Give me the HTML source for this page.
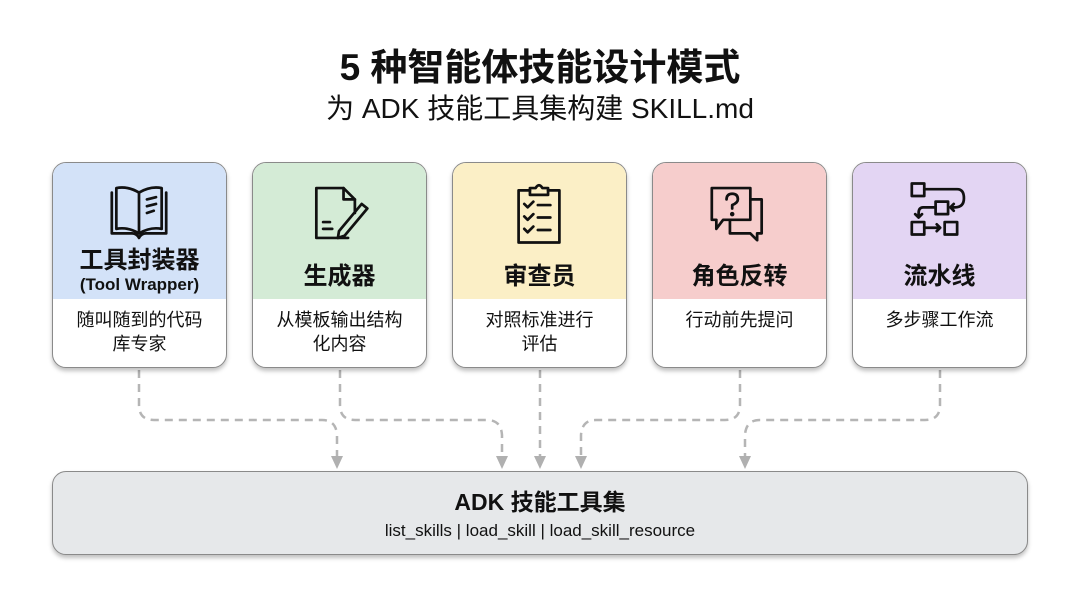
<!DOCTYPE html>
<html><head><meta charset="utf-8"><style>
html,body{margin:0;padding:0;background:#fff;}
body{width:1080px;height:602px;position:relative;overflow:hidden;font-family:"Liberation Sans","Noto Sans CJK SC",sans-serif;color:#111;}
.t1{position:absolute;left:0;width:1080px;top:44px;text-align:center;font-size:37px;font-weight:bold;line-height:48px;}
.t2{position:absolute;left:0;width:1080px;top:90px;text-align:center;font-size:28px;line-height:38px;}
.card{position:absolute;top:162px;width:173px;height:204px;border:1.5px solid #8a8a8a;border-radius:14px;overflow:hidden;background:#fff;box-shadow:0 3px 4px rgba(0,0,0,.25);}
.top{position:absolute;left:0;top:0;width:100%;height:136px;}
.name{position:absolute;left:0;width:100%;text-align:center;font-weight:bold;font-size:24px;line-height:28px;top:86px;}
.desc{position:absolute;left:0;width:100%;top:145px;text-align:center;font-size:18px;line-height:24px;}
.icon{position:absolute;left:52px;top:16px;width:68px;height:68px;}
.bot{position:absolute;left:52px;top:471px;width:974px;height:82px;border:1.5px solid #8a8a8a;border-radius:14px;background:#e6e8ea;box-shadow:0 3px 4px rgba(0,0,0,.25);text-align:center;}
</style></head><body>
<div class="t1">5 种智能体技能设计模式</div>
<div class="t2">为 ADK 技能工具集构建 SKILL.md</div>

<svg width="1080" height="602" style="position:absolute;left:0;top:0" fill="none">
<g stroke="#b5b5b5" stroke-width="2.5" stroke-dasharray="8,6">
<path d="M139 370 V405 Q139 420 154 420 H322 Q336 420 337 435 V458"/>
<path d="M340 370 V405 Q340 420 355 420 H487 Q501 420 502 435 V458"/>
<path d="M540 370 V458"/>
<path d="M740 370 V405 Q740 420 725 420 H596 Q582 420 581 435 V458"/>
<path d="M940 370 V405 Q940 420 925 420 H760 Q746 420 745 435 V458"/>
</g>
<g fill="#b0b0b0">
<path d="M331 456 L343 456 L337 469Z"/><path d="M496 456 L508 456 L502 469Z"/><path d="M534 456 L546 456 L540 469Z"/><path d="M575 456 L587 456 L581 469Z"/><path d="M739 456 L751 456 L745 469Z"/>
</g>
</svg>

<div class="card" style="left:52px"><div class="top" style="background:#d3e2f8"></div>
<svg class="icon" viewBox="0 0 60 60" stroke="#111" stroke-width="2.4" fill="none" stroke-linejoin="round" stroke-linecap="round"><path d="M6 12 V48 H24 Q28 48 30 52 Q32 48 36 48 H54 V12"/><path d="M10 8 Q20 6 30 12 Q40 6 50 8 V44 Q40 42 30 48 Q20 42 10 44Z"/><path d="M30 12 V48"/><path d="M37 18 L45 16 M37 24 L45 22 M37 30 L43 28"/></svg>
<div class="name" style="top:84px">工具封装器</div>
<div style="position:absolute;top:112px;width:100%;text-align:center;font-weight:bold;font-size:17px;">(Tool Wrapper)</div>
<div class="desc">随叫随到的代码<br>库专家</div></div>

<div class="card" style="left:252px"><div class="top" style="background:#d4ebd6"></div>
<svg class="icon" viewBox="0 0 60 60" stroke="#111" stroke-width="2.4" fill="none" stroke-linejoin="round" stroke-linecap="round"><path d="M38 52 H10 V8 H34 L44 18 V30"/><path d="M34 8 V18 H44"/><path d="M16 38 H22 M16 44 H24"/><path d="M30 46 L50 22 L55 26 L35 50 L29 52Z"/></svg>
<div class="name" style="top:100px">生成器</div>
<div class="desc">从模板输出结构<br>化内容</div></div>

<div class="card" style="left:452px"><div class="top" style="background:#fbefc6"></div>
<svg class="icon" viewBox="0 0 60 60" stroke="#111" stroke-width="2.4" fill="none" stroke-linejoin="round" stroke-linecap="round"><path d="M22 10 H12 V56 H48 V10 H38"/><path d="M22 8 H27 Q30 3 33 8 H38 V14 H22Z"/><path d="M17 22 L20 25 L25 20 M29 23 H40 M17 33 L20 36 L25 31 M29 34 H40 M17 44 L20 47 L25 42 M29 45 H40"/></svg>
<div class="name" style="top:100px">审查员</div>
<div class="desc">对照标准进行<br>评估</div></div>

<div class="card" style="left:652px"><div class="top" style="background:#f6cdcc"></div>
<svg class="icon" viewBox="0 0 60 60" stroke="#111" stroke-width="2.4" fill="none" stroke-linejoin="round" stroke-linecap="round"><path d="M6 8 H40 V36 H16 L10 44 V36 H6Z"/><path d="M40 18 H50 V48 H46 V54 L40 48 H22 V36"/><path d="M19 18 Q19 13 24 13 Q29 13 29 18 Q29 21 24 23 V26"/><circle cx="24" cy="31" r="0.8" fill="#111"/></svg>
<div class="name" style="top:100px">角色反转</div>
<div class="desc">行动前先提问</div></div>

<div class="card" style="left:852px"><div class="top" style="background:#e3d5f3"></div>
<svg class="icon" viewBox="0 0 60 60" stroke="#111" stroke-width="2.4" fill="none" stroke-linejoin="round" stroke-linecap="round"><rect x="6" y="4" width="11" height="11"/><path d="M17 9 H46 Q52 9 52 17 Q52 25 44 25 H40 M43 22 L40 25 L43 28"/><rect x="27" y="20" width="11" height="11"/><path d="M27 25 H16 Q12 25 12 30 V34 M9 31 L12 34 L15 31"/><rect x="6" y="38" width="11" height="11"/><path d="M17 43 H31 M28 40 L31 43 L28 46"/><rect x="35" y="38" width="11" height="11"/></svg>
<div class="name" style="top:100px">流水线</div>
<div class="desc">多步骤工作流</div></div>

<div class="bot">
<div style="font-weight:bold;font-size:23px;margin-top:15px;line-height:30px;">ADK 技能工具集</div>
<div style="font-size:17px;line-height:22px;margin-top:3px;">list_skills | load_skill | load_skill_resource</div>
</div>
</body></html>
